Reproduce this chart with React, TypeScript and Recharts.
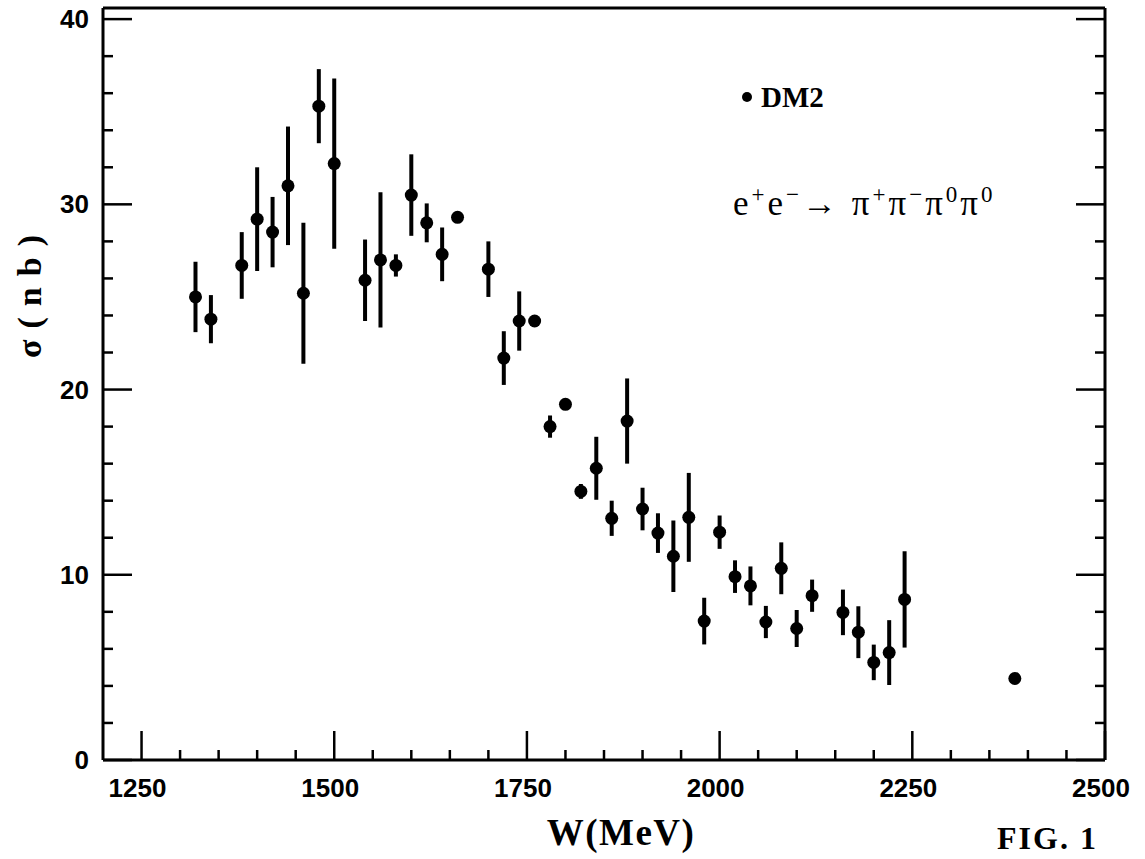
import React from "react";
import { ScatterChart, Scatter, XAxis, YAxis, ErrorBar } from "recharts";

// W (MeV), cross-section sigma (nb) and its error
const energy = [
  1320, 1340, 1380, 1400, 1420, 1440, 1460, 1480, 1500, 1540, 1560, 1580, 1600,
  1620, 1640, 1660, 1700, 1720, 1740, 1760, 1780, 1800, 1820, 1840, 1860, 1880,
  1900, 1920, 1940, 1960, 1980, 2000, 2020, 2040, 2060, 2080, 2100, 2120, 2160,
  2180, 2200, 2220, 2240, 2383,
];
const sigma = [
  25.0, 23.8, 26.7, 29.2, 28.5, 31.0, 25.2, 35.3, 32.2, 25.9, 27.0, 26.7, 30.5,
  29.0, 27.3, 29.3, 26.5, 21.7, 23.7, 23.7, 18.0, 19.2, 14.5, 15.75, 13.05, 18.3,
  13.55, 12.25, 11.0, 13.1, 7.5, 12.3, 9.9, 9.4, 7.45, 10.35, 7.1, 8.87, 7.97,
  6.9, 5.27, 5.8, 8.67, 4.4,
];
const sigmaErr = [
  1.9, 1.3, 1.8, 2.8, 1.9, 3.2, 3.8, 2.0, 4.6, 2.2, 3.65, 0.6, 2.2, 1.05, 1.45,
  0.15, 1.5, 1.45, 1.6, 0.3, 0.6, 0.15, 0.4, 1.7, 0.95, 2.3, 1.15, 1.07, 1.93,
  2.4, 1.26, 0.9, 0.88, 1.05, 0.87, 1.4, 1.0, 0.87, 1.23, 1.4, 0.96, 1.75, 2.6,
  0.3,
];

const xMajor = [1250, 1500, 1750, 2000, 2250, 2500];
const xTicks = [
  1250, 1300, 1350, 1400, 1450, 1500, 1550, 1600, 1650, 1700, 1750, 1800, 1850,
  1900, 1950, 2000, 2050, 2100, 2150, 2200, 2250, 2300, 2350, 2400, 2450, 2500,
];
const yMajor = [0, 10, 20, 30, 40];
const yTicks = [
  0, 2, 4, 6, 8, 10, 12, 14, 16, 18, 20, 22, 24, 26, 28, 30, 32, 34, 36, 38, 40,
];

const data = energy.map((w, i) => ({ w, s: sigma[i], err: sigmaErr[i] }));

const TICK_FONT = "'Liberation Sans', Arial, sans-serif";
const SERIF = "'Liberation Serif', 'Times New Roman', serif";
const MAJOR = 29;
const MINOR = 10;

const BottomTick = (props: any) => {
  const { x, y, payload } = props;
  const major = xMajor.includes(payload.value);
  return (
    <g>
      <line x1={x} y1={y} x2={x} y2={y - (major ? MAJOR : MINOR)} stroke="#000" strokeWidth={2.5} />
      {major && (
        <text x={x - 4} y={y + 37} textAnchor="middle" fontFamily={TICK_FONT} fontWeight="bold" fontSize={26} fill="#000">
          {payload.value}
        </text>
      )}
    </g>
  );
};

const TopTick = (props: any) => {
  const { x, y, payload } = props;
  const major = xMajor.includes(payload.value);
  return <line x1={x} y1={y} x2={x} y2={y + (major ? MAJOR : MINOR)} stroke="#000" strokeWidth={2.5} />;
};

const LeftTick = (props: any) => {
  const { x, y, payload } = props;
  const major = yMajor.includes(payload.value);
  return (
    <g>
      <line x1={x} y1={y} x2={x + (major ? MAJOR : MINOR)} y2={y} stroke="#000" strokeWidth={2.5} />
      {major && (
        <text x={x - 14} y={y + 9} textAnchor="end" fontFamily={TICK_FONT} fontWeight="bold" fontSize={26} fill="#000">
          {payload.value}
        </text>
      )}
    </g>
  );
};

const RightTick = (props: any) => {
  const { x, y, payload } = props;
  const major = yMajor.includes(payload.value);
  return <line x1={x} y1={y} x2={x - (major ? MAJOR : MINOR)} y2={y} stroke="#000" strokeWidth={2.5} />;
};

const Dot = (props: any) => <circle cx={props.cx} cy={props.cy} r={6.5} fill="#000" />;

const axisLine = { stroke: "#000", strokeWidth: 3 };

export default function App() {
  return (
    <div style={{ position: "absolute", left: 0, top: 0, width: 1145, height: 859, overflow: "hidden", background: "#fff" }}>
      <ScatterChart width={1145} height={859} margin={{ top: 0, right: 0, bottom: 0, left: 0 }}>
        <XAxis
          dataKey="w"
          type="number"
          domain={[1200, 2500]}
          allowDataOverflow
          ticks={xTicks}
          interval={0}
          height={99}
          tickSize={0}
          tickMargin={0}
          tick={<BottomTick />}
          axisLine={axisLine}
          tickLine={false}
        />
        <XAxis
          xAxisId="top"
          orientation="top"
          type="number"
          domain={[1200, 2500]}
          allowDataOverflow
          ticks={xTicks}
          interval={0}
          height={8}
          tickSize={0}
          tickMargin={0}
          tick={<TopTick />}
          axisLine={axisLine}
          tickLine={false}
        />
        <YAxis
          dataKey="s"
          type="number"
          domain={[0, 40.6]}
          allowDataOverflow
          ticks={yTicks}
          interval={0}
          width={103}
          tickSize={0}
          tickMargin={0}
          tick={<LeftTick />}
          axisLine={axisLine}
          tickLine={false}
        />
        <YAxis
          yAxisId="right"
          orientation="right"
          type="number"
          domain={[0, 40.6]}
          allowDataOverflow
          ticks={yTicks}
          interval={0}
          width={40}
          tickSize={0}
          tickMargin={0}
          tick={<RightTick />}
          axisLine={axisLine}
          tickLine={false}
        />
        <Scatter data={data} shape={<Dot />} isAnimationActive={false}>
          <ErrorBar dataKey="err" direction="y" width={0} stroke="#000" strokeWidth={4} isAnimationActive={false} />
        </Scatter>
      </ScatterChart>

      <svg width={1145} height={859} style={{ position: "absolute", left: 0, top: 0, pointerEvents: "none" }}>
        <text
          x={29}
          y={291}
          transform="rotate(-90, 29, 291)"
          textAnchor="middle"
          dominantBaseline="central"
          fontFamily={SERIF}
          fontWeight="bold"
          fontSize={34}
          letterSpacing={11}
          fill="#000"
        >
          σ(nb)
        </text>
        <text x={621} y={845} textAnchor="middle" fontFamily={SERIF} fontWeight="bold" fontSize={37} letterSpacing={1.5} fill="#000">
          W(MeV)
        </text>
        <circle cx={747} cy={97} r={5} fill="#000" />
        <text x={761} y={107} fontFamily={SERIF} fontWeight="bold" fontSize={29} fill="#000">
          DM2
        </text>
        <text x={733} y={215} fontFamily={SERIF} fontSize={35} letterSpacing={3} fill="#000">
          e<tspan dy={-13} fontSize={23}>+</tspan>
          <tspan dy={13}>e</tspan>
          <tspan dy={-13} fontSize={23}>−</tspan>
          <tspan dy={13}>→ π</tspan>
          <tspan dy={-13} fontSize={23}>+</tspan>
          <tspan dy={13}>π</tspan>
          <tspan dy={-13} fontSize={23}>−</tspan>
          <tspan dy={13}>π</tspan>
          <tspan dy={-13} fontSize={23}>0</tspan>
          <tspan dy={13}>π</tspan>
          <tspan dy={-13} fontSize={23}>0</tspan>
        </text>
        <text x={997} y={849} fontFamily={SERIF} fontWeight="bold" fontSize={32} letterSpacing={2} fill="#000">
          FIG. 1
        </text>
      </svg>
    </div>
  );
}
